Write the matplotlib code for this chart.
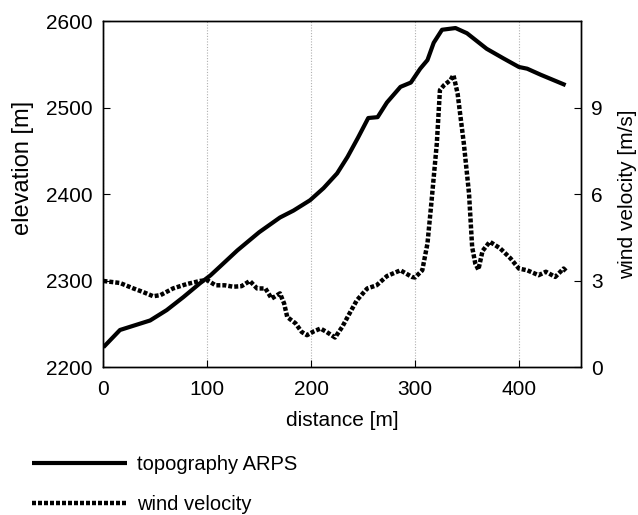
import matplotlib
matplotlib.use('Agg')
from matplotlib import pyplot as plt

# topography along the transect (distance [m], elevation [m])
topo_dist = [0, 16, 45, 61, 77, 93, 103, 112, 129, 150, 170, 183, 199, 212, 225,
             235, 245, 255, 264, 273, 286, 296, 305, 312, 318, 326, 339, 350,
             369, 385, 400, 408, 421, 437, 445]
topo_elev = [2223, 2243, 2254, 2266, 2281, 2297, 2306, 2316, 2335, 2356, 2373,
             2381, 2393, 2407, 2424, 2443, 2465, 2488, 2489, 2506, 2524, 2529,
             2545, 2555, 2575, 2590, 2592, 2586, 2568, 2557, 2547, 2545, 2538,
             2530, 2526]

# wind velocity along the transect (distance [m], speed [m/s])
wind_dist = [0, 16, 29, 38, 48, 55, 67, 80, 93, 100, 108, 117, 125, 133, 141,
             148, 156, 162, 170, 174, 177, 185, 191, 196, 203, 209, 215, 223,
             230, 236, 244, 254, 263, 273, 286, 297, 300, 307, 312, 316, 321,
             324, 328, 334, 337, 341, 347, 352, 355, 358, 361, 365, 372, 382,
             392, 400, 408, 419, 426, 435, 443, 446]
wind_speed = [2.99, 2.92, 2.73, 2.61, 2.46, 2.50, 2.73, 2.88, 2.99, 3.02, 2.84,
              2.84, 2.79, 2.81, 2.99, 2.73, 2.73, 2.38, 2.56, 2.21, 1.74, 1.52,
              1.22, 1.11, 1.25, 1.34, 1.22, 1.03, 1.40, 1.80, 2.32, 2.73, 2.84,
              3.16, 3.36, 3.13, 3.11, 3.36, 4.29, 5.79, 7.76, 9.61, 9.78, 9.95,
              10.13, 9.49, 7.76, 6.02, 4.17, 3.60, 3.38, 4.03, 4.35, 4.12, 3.77,
              3.42, 3.36, 3.19, 3.31, 3.13, 3.42, 3.31]

plt.rcParams['font.family'] = ['Liberation Sans', 'DejaVu Sans']
fs = 15

fig = plt.figure(figsize=(6.38, 5.15), dpi=100)
ax = fig.add_axes([0.162, 0.287, 0.749, 0.672])
ax2 = ax.twinx()

l1, = ax.plot(topo_dist, topo_elev, color='black', lw=3, solid_capstyle='butt')
l2, = ax2.plot(wind_dist, wind_speed, color='black', lw=3.2,
               linestyle=(0, (0.9, 0.45)), dash_capstyle='butt')

ax.set_xlim(0, 460)
ax.set_ylim(2200, 2600)
ax2.set_ylim(0, 12)
ax.set_xticks([0, 100, 200, 300, 400])
ax.set_yticks([2200, 2300, 2400, 2500, 2600])
ax2.set_yticks([0, 3, 6, 9])

ax.grid(axis='x', color='#b0b0b0', linestyle=(0, (1, 1.5)), lw=0.8)
ax.set_axisbelow(True)

ax.tick_params(axis='x', direction='in', length=5, labelsize=fs, width=0.8, pad=9)
ax.tick_params(axis='y', direction='in', length=5, labelsize=fs, width=0.8, pad=8)
ax2.tick_params(direction='in', length=5, labelsize=fs, width=0.8, pad=7)
for a in (ax, ax2):
    for s in a.spines.values():
        s.set_linewidth(1.0)

ax.set_xlabel('distance [m]', fontsize=fs, labelpad=9)
ax.set_ylabel('elevation [m]', fontsize=17)
ax.yaxis.set_label_coords(-0.145, 0.575)
ax2.set_ylabel('wind velocity [m/s]', fontsize=fs, labelpad=11)

fig.legend([l1, l2], ['topography ARPS', 'wind velocity'],
           loc='upper left', bbox_to_anchor=(0.05, 0.117), frameon=False,
           fontsize=14.5, handlelength=4.7, labelspacing=1.05, handletextpad=0.5,
           borderpad=0, borderaxespad=0)

fig.savefig('out.png', dpi=100)
